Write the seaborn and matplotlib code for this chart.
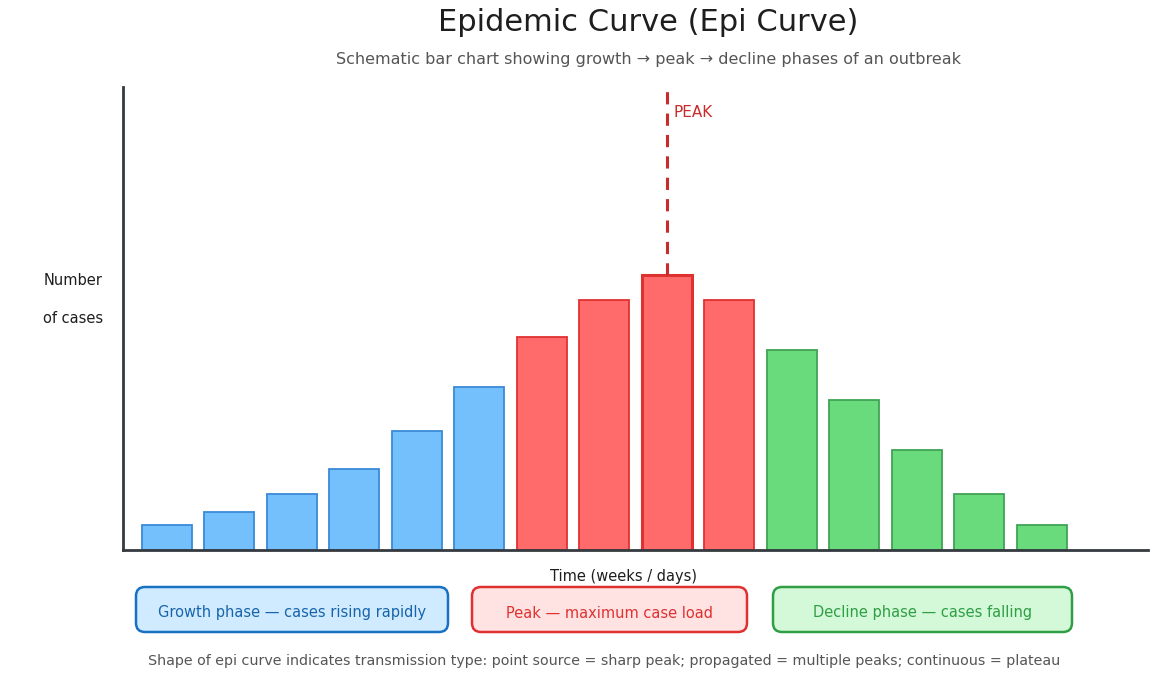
import matplotlib
matplotlib.use("Agg")
import matplotlib.pyplot as plt
import seaborn as sns
import pandas as pd
from matplotlib.patches import FancyBboxPatch

# data
weeks = list(range(1, 16))
cases = [2, 3, 4.5, 6.5, 9.5, 13, 17, 20, 22, 20, 16, 12, 8, 4.5, 2]
phase = ["growth"] * 6 + ["peak"] * 4 + ["decline"] * 5
peak_week = 9

fills = {"growth": "#74c0fc", "peak": "#ff6b6b", "decline": "#69db7c"}
edges = {"growth": "#3a8ad8", "peak": "#e03131", "decline": "#40a455"}

df = pd.DataFrame({"week": weeks, "cases": cases, "phase": phase})

sns.set_theme(style="white")
plt.rcParams["font.family"] = ["DejaVu Sans"]

fig = plt.figure(figsize=(11.56, 6.90), dpi=100)
ax = fig.add_axes([0.1064, 0.2029, 0.8867, 0.671])

sns.barplot(data=df, x="week", y="cases", hue="phase", palette=fills,
            dodge=False, width=0.8, saturation=1, legend=False, ax=ax)

# edge colours per bar, thicker edge on the peak bar
for p in ax.patches:
    i = int(round(p.get_x() + p.get_width() / 2))
    ph = phase[i]
    p.set_edgecolor(edges[ph])
    p.set_linewidth(2.2 if weeks[i] == peak_week else 1.3)
    p.set_alpha(1)

ax.set_xlim(-0.7, 15.7)
ax.set_ylim(0, 37.0)
ax.set_xticks([])
ax.set_yticks([])
ax.set_xlabel("")
ax.set_ylabel("")
sns.despine(ax=ax)
for s in ["left", "bottom"]:
    ax.spines[s].set_color("#343a40")
    ax.spines[s].set_linewidth(2)

# peak marker
pk = weeks.index(peak_week)
ax.plot([pk, pk], [cases[pk], 37.0], color="#c92a2a", lw=2.2,
        ls=(0, (4, 3)), clip_on=False, zorder=3)
ax.text(pk + 0.1, 35.0, "PEAK", color="#c92a2a", fontsize=11,
        ha="left", va="center")

# titles and labels
fig.text(0.561, 0.968, "Epidemic Curve (Epi Curve)", ha="center", va="center",
         fontsize=22, color="#1e1e1e")
fig.text(0.561, 0.914,
         "Schematic bar chart showing growth \u2192 peak \u2192 decline phases of an outbreak",
         ha="center", va="center", fontsize=11.5, color="#555555")
fig.text(0.063, 0.594, "Number", ha="center", va="center", fontsize=10.5, color="#1e1e1e")
fig.text(0.063, 0.539, "of cases", ha="center", va="center", fontsize=10.5, color="#1e1e1e")
fig.text(0.539, 0.165, "Time (weeks / days)", ha="center", va="center",
         fontsize=10.5, color="#1e1e1e")

# phase boxes (inches from bottom-left)
boxes = [
    (1.36, 3.12, "Growth phase \u2014 cases rising rapidly", "#d0ebff", "#1971c2", "#1864ab"),
    (4.72, 2.75, "Peak \u2014 maximum case load", "#ffe3e3", "#e03131", "#e03131"),
    (7.73, 2.99, "Decline phase \u2014 cases falling", "#d3f9d8", "#2f9e44", "#2f9e44"),
]
for x0, w, label, fc, ec, tc in boxes:
    b = FancyBboxPatch((x0, 0.58), w, 0.45,
                       boxstyle="round,pad=0,rounding_size=0.09",
                       transform=fig.dpi_scale_trans, facecolor=fc,
                       edgecolor=ec, linewidth=1.8)
    fig.add_artist(b)
    fig.text(x0 + w / 2, 0.77, label, transform=fig.dpi_scale_trans,
             ha="center", va="center", fontsize=10.5, color=tc)

fig.text(0.523, 0.042,
         "Shape of epi curve indicates transmission type: point source = sharp peak; "
         "propagated = multiple peaks; continuous = plateau",
         ha="center", va="center", fontsize=10.3, color="#555555")

fig.savefig("out.png", dpi=100)
